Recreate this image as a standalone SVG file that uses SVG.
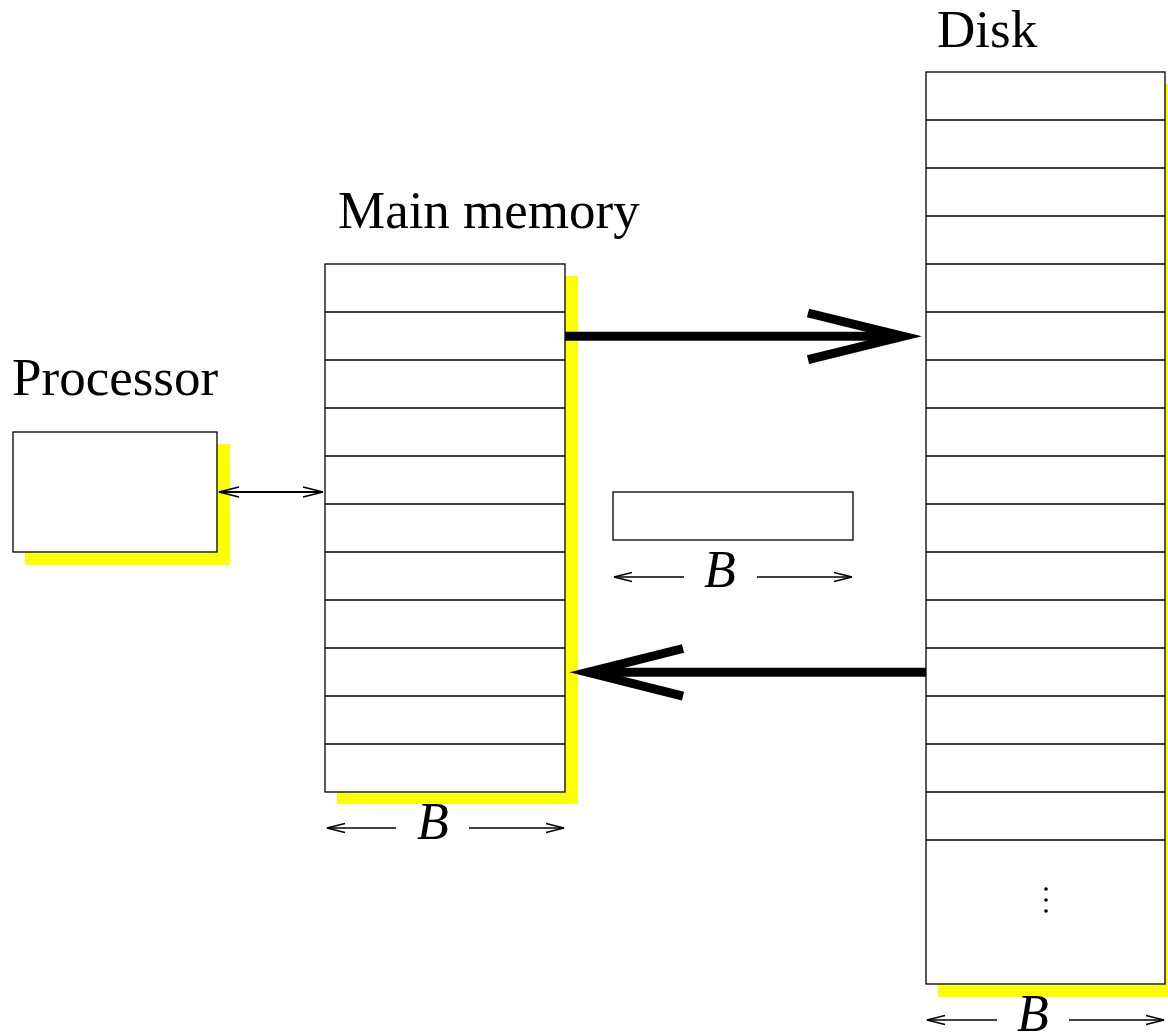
<svg xmlns="http://www.w3.org/2000/svg" width="1168" height="1034" viewBox="0 0 1168 1034">
  <style>
    .box { fill: #ffffff; stroke: #000000; stroke-width: 1.3; }
    .row { stroke: #000000; stroke-width: 1.3; fill: none; }
    .shadow { fill: #ffff00; stroke: none; }
    .label { font-family: "Liberation Serif", "Times New Roman", serif; font-size: 53px; fill: #000000; }
    .dimtext { font-family: "Liberation Serif", "Times New Roman", serif; font-size: 52px; font-style: italic; fill: #000000; text-anchor: middle; }
    .thin { stroke: #000000; stroke-width: 1.4; fill: none; }
    .link { stroke: #000000; stroke-width: 1.8; fill: none; }
    .bold { stroke: #000000; stroke-width: 9; fill: none; }
    .head { stroke: #000000; stroke-width: 9; fill: none; stroke-linejoin: miter; stroke-miterlimit: 10; }
  </style>

  <!-- Processor -->
  <g id="processor">
    <rect class="shadow" x="25" y="444" width="205" height="121"/>
    <rect class="box" x="13" y="432" width="204" height="120"/>
    <text class="label" x="12" y="395">Processor</text>
  </g>

  <!-- Main memory: 11 blocks of height 48 -->
  <g id="main-memory">
    <rect class="shadow" x="337" y="276" width="241" height="528"/>
    <rect class="box" x="325" y="264" width="240" height="528"/>
    <path class="row" d="M325 312H565M325 360H565M325 408H565M325 456H565M325 504H565M325 552H565M325 600H565M325 648H565M325 696H565M325 744H565"/>
    <text class="label" x="338" y="228">Main memory</text>
  </g>

  <!-- Disk: 16 blocks followed by an open-ended region -->
  <g id="disk">
    <rect class="shadow" x="938" y="84" width="240" height="913"/>
    <rect class="box" x="926" y="72" width="239" height="912"/>
    <path class="row" d="M926 120H1165M926 168H1165M926 216H1165M926 264H1165M926 312H1165M926 360H1165M926 408H1165M926 456H1165M926 504H1165M926 552H1165M926 600H1165M926 648H1165M926 696H1165M926 744H1165M926 792H1165M926 840H1165"/>
    <circle cx="1046" cy="889" r="1.8" fill="#000"/>
    <circle cx="1046" cy="900" r="1.8" fill="#000"/>
    <circle cx="1046" cy="911" r="1.8" fill="#000"/>
    <text class="label" x="937" y="47">Disk</text>
  </g>

  <!-- Block in transit -->
  <g id="block">
    <rect class="box" x="613" y="492" width="240" height="48"/>
  </g>

  <!-- Connectors and block-size dimensions -->
  <g id="connectors">
    <!-- processor <-> main memory -->
    <path class="link" d="M219 492H323"/>
    <path class="link" d="M239 487L219 492L239 497"/>
    <path class="link" d="M303 487L323 492L303 497"/>

    <!-- main memory -> disk -->
    <path class="bold" d="M565 336.3H900"/>
    <polyline class="head" points="808,313 903,336.3 808,359.6"/>

    <!-- disk -> main memory -->
    <path class="bold" d="M926 672.3H592"/>
    <polyline class="head" points="683,648.5 588,672.3 683,696.1"/>

    <!-- block width B (transit) -->
    <path class="thin" d="M614 577H684M757 577H852"/>
    <path class="thin" d="M632 572.5L614 577L632 581.5"/>
    <path class="thin" d="M834 572.5L852 577L834 581.5"/>
    <text class="dimtext" x="720" y="587">B</text>

    <!-- block width B (main memory) -->
    <path class="thin" d="M327 828H396M469 828H564"/>
    <path class="thin" d="M345 823.5L327 828L345 832.5"/>
    <path class="thin" d="M546 823.5L564 828L546 832.5"/>
    <text class="dimtext" x="433" y="839">B</text>

    <!-- block width B (disk) -->
    <path class="thin" d="M927 1020H997M1069 1020H1164"/>
    <path class="thin" d="M945 1015.5L927 1020L945 1024.5"/>
    <path class="thin" d="M1146 1015.5L1164 1020L1146 1024.5"/>
    <text class="dimtext" x="1033" y="1031">B</text>
  </g>
</svg>
